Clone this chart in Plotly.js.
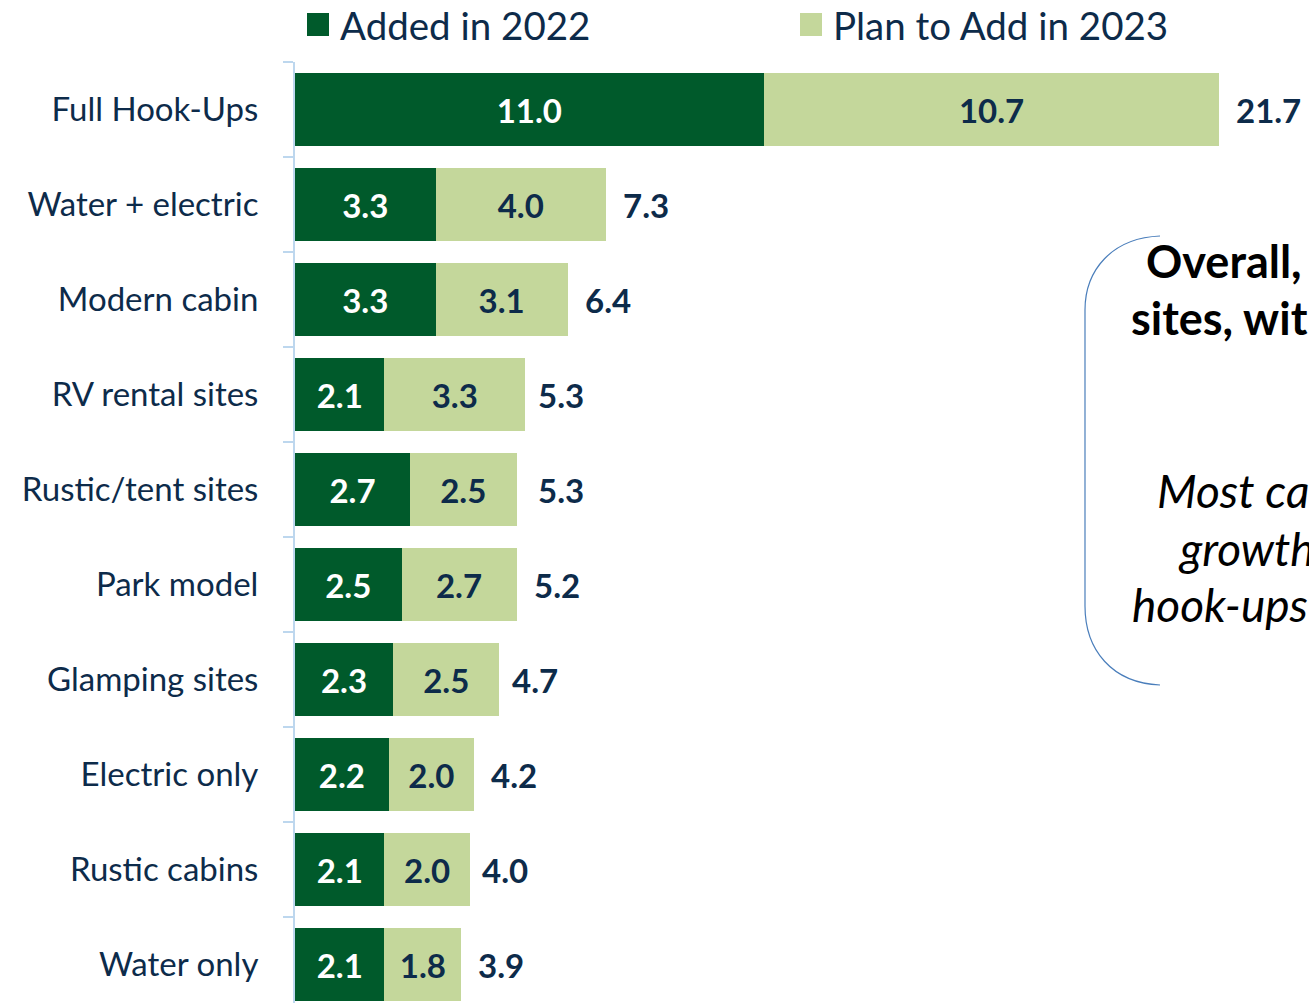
<!DOCTYPE html>
<html>
<head>
<meta charset="utf-8">
<script src="https://cdn.plot.ly/plotly-3.0.1.min.js"></script>
<style>
html,body{margin:0;padding:0;overflow:hidden;background:#fff;}
#chart{width:1309px;height:1003px;}
</style>
</head>
<body>
<div id="chart"></div>
<script>
// ---- data ----
const categories = ['Full Hook-Ups','Water + electric','Modern cabin','RV rental sites','Rustic/tent sites','Park model','Glamping sites','Electric only','Rustic cabins','Water only'];
const added2022 = [11.0,3.3,3.3,2.1,2.7,2.5,2.3,2.2,2.1,2.1];
const plan2023  = [10.7,4.0,3.1,3.3,2.5,2.7,2.5,2.0,2.0,1.8];
const totals    = [21.7,7.3,6.4,5.3,5.3,5.2,4.7,4.2,4.0,3.9];
const seriesNames = ['Added in 2022','Plan to Add in 2023'];
const calloutBold = ['Overall,','sites, with'];
const calloutItalic = ['Most campgrounds','growth','hook-ups'];

// ---- styling ----
const FONT = 'Lato, "Noto Sans", sans-serif';
const NAVY = '#0d2b4a';
const DARK = '#005a2b';
const LIGHT = '#c4d79b';
const L = 295, T = 62, W = 1014, H = 941;
const px = x => (x - L) / W;
const py = y => (T + H - y) / H;

const traces = [
  {type:'bar', orientation:'h', name:seriesNames[0], y:categories, x:added2022,
   marker:{color:DARK}, texttemplate:'%{x:.1f}', textposition:'inside', insidetextanchor:'middle',
   textangle:0, constraintext:'none',
   textfont:{family:FONT, size:33, color:'#ffffff', weight:700}, hoverinfo:'x+y'},
  {type:'bar', orientation:'h', name:seriesNames[1], y:categories, x:plan2023,
   marker:{color:LIGHT}, texttemplate:'%{x:.1f}', textposition:'inside', insidetextanchor:'middle',
   textangle:0, constraintext:'none',
   textfont:{family:FONT, size:33, color:NAVY, weight:700}, hoverinfo:'x+y'}
];

const annotations = [];
categories.forEach((c,i) => {
  annotations.push({x:totals[i], y:c, xref:'x', yref:'y', text:totals[i].toFixed(1),
    showarrow:false, xanchor:'left', xshift:15,
    font:{family:FONT, size:33, color:NAVY, weight:700}});
});
// manual legend
const legendPos = [{sq:[307,13,329,36], tx:338},{sq:[800,13,822,36], tx:831}];
const shapes = [];
legendPos.forEach((p,i) => {
  shapes.push({type:'rect', xref:'paper', yref:'paper', x0:px(p.sq[0]), x1:px(p.sq[2]), y0:py(p.sq[3]), y1:py(p.sq[1]),
    fillcolor:i===0?DARK:LIGHT, line:{width:0}});
  annotations.push({xref:'paper', yref:'paper', x:px(p.tx), y:py(25), xanchor:'left', yanchor:'middle',
    text:seriesNames[i], showarrow:false, font:{family:FONT, size:38.5, color:NAVY}});
});
// callout bracket
const P = (x,y) => px(x).toFixed(5)+','+py(y).toFixed(5);
shapes.push({type:'path', xref:'paper', yref:'paper',
  path:'M'+P(1160,236)+' C'+P(1112,238)+' '+P(1085,270)+' '+P(1085,310)+' L'+P(1085,606)+' C'+P(1085,650)+' '+P(1112,683)+' '+P(1160,685),
  line:{color:'#4a7ebb', width:1.2}});
const boldStarts = [[1144,261],[1129,318]];
calloutBold.forEach((t,i)=>annotations.push({xref:'paper', yref:'paper', x:px(boldStarts[i][0]), y:py(boldStarts[i][1]),
  xanchor:'left', yanchor:'middle', text:t, showarrow:false, font:{family:FONT, size:45, color:'#000', weight:700}}));
const itStarts = [[1155,490],[1176,548],[1130,604]];
calloutItalic.forEach((t,i)=>annotations.push({xref:'paper', yref:'paper', x:px(itStarts[i][0]), y:py(itStarts[i][1]),
  xanchor:'left', yanchor:'middle', text:t, showarrow:false, font:{family:FONT, size:46, color:'#000', style:'italic'}}));

const layout = {
  width:1309, height:1003,
  margin:{l:L, r:0, t:T, b:0},
  barmode:'stack', bargap:0.23,
  showlegend:false,
  paper_bgcolor:'#fff', plot_bgcolor:'#fff',
  xaxis:{range:[0, W/42.6], visible:false, fixedrange:true},
  yaxis:{type:'category', categoryorder:'array', categoryarray:categories,
    range:[9.405,-0.5], autorange:false,
    showline:true, linecolor:'#bdd7ee', linewidth:2,
    ticks:'outside', ticklen:10, tickwidth:2, tickcolor:'#bdd7ee', tickson:'boundaries',
    ticklabelstandoff:28, showgrid:false, zeroline:false,
    tickfont:{family:FONT, size:33, color:NAVY}},
  shapes:shapes, annotations:annotations,
  font:{family:FONT}
};
Plotly.newPlot('chart', traces, layout, {displayModeBar:false, staticPlot:true});
</script>
</body>
</html>
